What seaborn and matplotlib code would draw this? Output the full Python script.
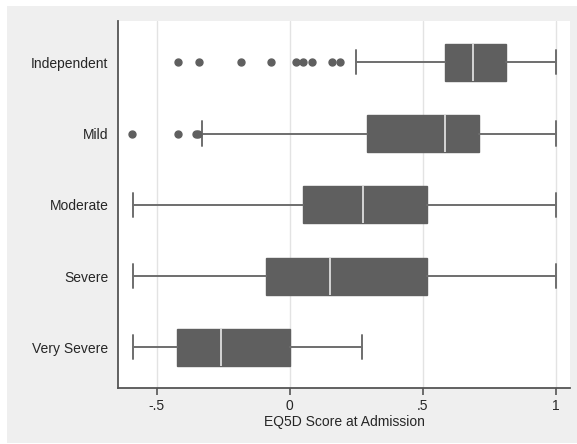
import matplotlib
matplotlib.use("Agg")
import matplotlib.pyplot as plt
import seaborn as sns

# ======== DATA ========
categories = ["Independent", "Mild", "Moderate", "Severe", "Very Severe"]
whis_lo = [0.248, -0.331, -0.590, -0.590, -0.590]
q1 = [0.583, 0.289, 0.051, -0.089, -0.423]
median = [0.688, 0.585, 0.276, 0.152, -0.257]
q3 = [0.813, 0.710, 0.515, 0.515, 0.000]
whis_hi = [1.000, 1.000, 1.000, 1.000, 0.271]
outliers = [
    [-0.421, -0.342, -0.182, -0.071, 0.023, 0.051, 0.085, 0.158, 0.189],
    [-0.592, -0.421, -0.352, -0.344],
    [],
    [],
    [],
]
xticks = [-0.5, 0, 0.5, 1]
xticklabels = ["-.5", "0", ".5", "1"]

# ======== STYLE ========
sns.set_style("white")
plt.rcParams["font.family"] = ["Liberation Sans", "DejaVu Sans"]

BOX = "#5f5f5f"
LINE = "#6e6e6e"
BG = "#efefef"

fig = plt.figure(figsize=(5.77, 4.44), dpi=100)
fig.patch.set_facecolor("white")
fig.patches.append(plt.Rectangle((7 / 577, 1 / 444), 570 / 577, 437 / 444,
                                 transform=fig.transFigure, facecolor=BG,
                                 edgecolor="none", zorder=-10))
ax = fig.add_axes([118 / 577, 56 / 444, 452 / 577, 367 / 444])
ax.set_facecolor("white")

stats = []
for i, name in enumerate(categories):
    stats.append({
        "label": name, "whislo": whis_lo[i], "q1": q1[i], "med": median[i],
        "q3": q3[i], "whishi": whis_hi[i], "fliers": outliers[i],
    })

ax.bxp(stats, positions=range(len(categories)), orientation="horizontal",
       widths=0.52, capwidths=0.34, patch_artist=True,
       boxprops=dict(facecolor=BOX, edgecolor=BOX, linewidth=1),
       medianprops=dict(color="#e8e8e8", linewidth=1.2),
       whiskerprops=dict(color=LINE, linewidth=1.4),
       capprops=dict(color=LINE, linewidth=1.4),
       flierprops=dict(marker="o", markerfacecolor=BOX, markeredgecolor=BOX,
                       markersize=5))

ax.set_ylim(4.57, -0.58)
ax.set_xlim(-0.6455, 1.054)
ax.set_xticks(xticks)
ax.set_xticklabels(xticklabels)
ax.set_yticks(range(len(categories)))
ax.set_yticklabels(categories)
ax.grid(axis="x", color="#e3e3e3", linewidth=1)
ax.set_axisbelow(True)

sns.despine(ax=ax, top=True, right=True)
for s in ["left", "bottom"]:
    ax.spines[s].set_color("#555555")
    ax.spines[s].set_linewidth(1.3)

ax.tick_params(axis="x", direction="out", length=5, width=1.2, color="#555555",
               labelsize=10, pad=3, bottom=True)
ax.tick_params(axis="y", length=0, labelsize=10, pad=7)
ax.set_xlabel("EQ5D Score at Admission", fontsize=10, labelpad=1)
ax.set_ylabel("")

fig.savefig("out.png", dpi=100, facecolor=fig.get_facecolor())
